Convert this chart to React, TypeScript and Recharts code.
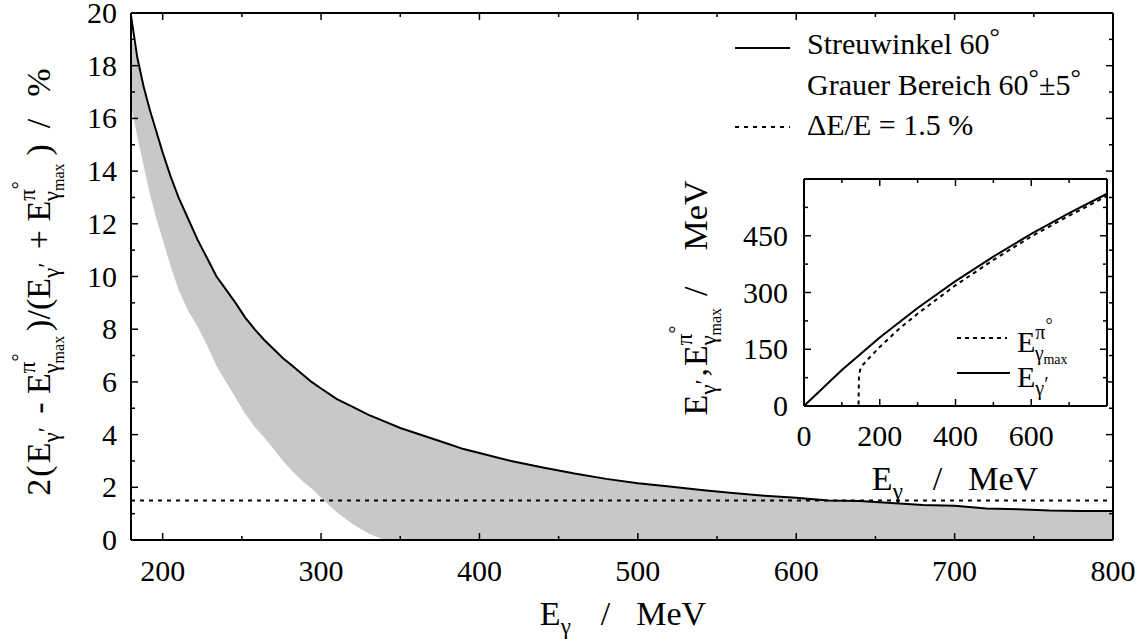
import React from 'react';
import { ComposedChart, LineChart, Line, Area, XAxis, YAxis, ReferenceLine } from 'recharts';

const FONT = 'Liberation Serif, Times New Roman, Tinos, serif';

// ---- main chart data (E_gamma in MeV, relative difference in %) ----
const energies = [180, 184, 188, 192, 196, 200, 205, 210, 216, 222, 228, 234, 240, 246, 252, 258, 264, 270, 276, 282, 288, 294, 300, 310, 320, 330, 340, 350, 360, 370, 380, 390, 400, 420, 440, 460, 480, 500, 520, 540, 560, 580, 600, 620, 640, 660, 680, 700, 720, 740, 760, 780, 800];
const upper60 = [19.9, 18.3, 17.2, 16.3, 15.5, 14.7, 13.8, 13.0, 12.2, 11.4, 10.7, 10.0, 9.5, 9.0, 8.45, 8.0, 7.6, 7.25, 6.9, 6.6, 6.3, 6.0, 5.75, 5.35, 5.05, 4.75, 4.5, 4.25, 4.05, 3.85, 3.65, 3.45, 3.3, 3.0, 2.75, 2.52, 2.32, 2.15, 2.03, 1.9, 1.78, 1.68, 1.6, 1.5, 1.48, 1.4, 1.33, 1.3, 1.2, 1.17, 1.12, 1.1, 1.1];
const bandHigh = [19.2, 18.3, 17.2, 16.3, 15.5, 14.7, 13.8, 13.0, 12.2, 11.4, 10.7, 10.0, 9.5, 9.0, 8.45, 8.0, 7.6, 7.25, 6.9, 6.6, 6.3, 6.0, 5.75, 5.35, 5.05, 4.75, 4.5, 4.25, 4.05, 3.85, 3.65, 3.45, 3.3, 3.0, 2.75, 2.52, 2.32, 2.15, 2.03, 1.9, 1.78, 1.68, 1.6, 1.5, 1.48, 1.4, 1.33, 1.3, 1.2, 1.17, 1.12, 1.1, 1.1];
const bandLow = [16.5, 15.3, 14.2, 13.1, 12.2, 11.4, 10.4, 9.5, 8.7, 8.1, 7.4, 6.6, 6.0, 5.4, 4.8, 4.3, 3.9, 3.45, 3.0, 2.6, 2.25, 1.95, 1.6, 1.05, 0.6, 0.25, 0, 0, 0, 0, 0, 0, 0, 0, 0, 0, 0, 0, 0, 0, 0, 0, 0, 0, 0, 0, 0, 0, 0, 0, 0, 0, 0];
const resolutionLevel = 1.5;

const mainXTicks = [200, 250, 300, 350, 400, 450, 500, 550, 600, 650, 700, 750, 800];
const mainYTicks = [0, 1, 2, 3, 4, 5, 6, 7, 8, 9, 10, 11, 12, 13, 14, 15, 16, 17, 18, 19, 20];

// ---- inset data ----
const insetPrimeX = [0, 100, 200, 300, 400, 500, 600, 700, 800];
const insetPrimeY = [0, 95, 181, 259, 330, 395, 455, 510, 561];
const insetMaxX = [0, 144, 145, 148, 155, 170, 200, 250, 300, 400, 500, 600, 700, 800];
const insetMaxY = [0, 0, 75, 95, 108, 125, 156, 203, 244, 319, 386, 448, 503, 555];
const insetXTicks = [0, 100, 200, 300, 400, 500, 600, 700, 800];
const insetXLabels = [0, 200, 400, 600];
const insetYTicks = [0, 75, 150, 225, 300, 375, 450, 525, 600];
const insetYLabels = [0, 150, 300, 450];

const mainData = energies.map((e, i) => ({ e, upper: upper60[i], band: [bandLow[i], bandHigh[i]] }));
const primeData = insetPrimeX.map((x, i) => ({ x, y: insetPrimeY[i] }));
const maxData = insetMaxX.map((x, i) => ({ x, y: insetMaxY[i] }));

type Seg = { t: string; fs: number; off?: number; dx?: number };

function Rich({ x, y, segs, anchor = 'start', rotate = 0 }: { x: number; y: number; segs: Seg[]; anchor?: string; rotate?: number }) {
  let prev = 0;
  return (
    <text x={x} y={y} textAnchor={anchor as any} fill="#000" fontFamily={FONT} style={{ whiteSpace: 'pre', fontFamily: FONT }}
      transform={rotate ? `rotate(${rotate} ${x} ${y})` : undefined}>
      {segs.map((s, i) => {
        const off = s.off ?? 0;
        const dy = off - prev;
        prev = off;
        return <tspan key={i} dy={dy} dx={s.dx ?? 0} fontFamily={FONT} fontSize={s.fs}>{s.t}</tspan>;
      })}
    </text>
  );
}

const M = 34, S = 23, SS = 16;
const stack = (m = M): Seg[] => {
  const k = m / M;
  return [
    { t: 'π', fs: Math.round(S * k), off: Math.round(-15 * k) },
    { t: '°', fs: Math.round(20 * k), off: Math.round(-24 * k) },
    { t: 'γ', fs: Math.round(S * k), off: Math.round(9 * k), dx: Math.round(-20 * k) },
    { t: 'max', fs: Math.round(SS * k), off: Math.round(14 * k) },
  ];
};

const mainYTitle: Seg[] = [
  { t: '2', fs: M, off: 0 },
  { t: '(', fs: M, off: 0, dx: 2 },
  { t: 'E', fs: M, off: 0, dx: 2 },
  { t: 'γ', fs: S, off: 9 },
  { t: '′', fs: S, off: 4 },
  { t: ' - ', fs: M, off: 0, dx: 5 },
  { t: 'E', fs: M, off: 0 },
  ...stack(),
  { t: ')/(', fs: M, off: 0, dx: 5 },
  { t: 'E', fs: M, off: 0 },
  { t: 'γ', fs: S, off: 9 },
  { t: '′', fs: S, off: 4 },
  { t: ' + ', fs: M, off: 0, dx: 5 },
  { t: 'E', fs: M, off: 0 },
  ...stack(),
  { t: ')', fs: M, off: 0, dx: 8 },
  { t: '/', fs: M, off: 0, dx: 16 },
  { t: '%', fs: M, off: 0, dx: 22 },
];

const insetYTitle: Seg[] = [
  { t: 'E', fs: M, off: 0 },
  { t: 'γ', fs: S, off: 9 },
  { t: '′', fs: S, off: 4 },
  { t: ',', fs: M, off: 0, dx: 3 },
  { t: 'E', fs: M, off: 0, dx: 2 },
  ...stack(),
  { t: '/', fs: M, off: 0, dx: 12 },
  { t: 'MeV', fs: M, off: 0, dx: 36 },
];

const xTitle: Seg[] = [
  { t: 'E', fs: M, off: 0 },
  { t: 'γ', fs: S, off: 9 },
  { t: '/', fs: M, off: 0, dx: 30 },
  { t: 'MeV', fs: M, off: 0, dx: 26 },
];

const makeTick = (side: 'bottom' | 'top' | 'left' | 'right', isMajor: (v: number) => boolean, isLabel: (v: number) => boolean, labelGap: number) =>
  (p: any) => {
    const v = p.payload.value as number;
    const x = p.x as number;
    const y = p.y as number;
    const len = isMajor(v) ? 7 : 4;
    let line = null as any;
    let label = null as any;
    const ts = { fontFamily: FONT, fontSize: 30 };
    if (side === 'bottom') {
      line = <line x1={x} y1={y} x2={x} y2={y - len} stroke="#000" strokeWidth={1.5} />;
      if (isLabel(v)) label = <text x={x} y={y + labelGap} textAnchor="middle" fill="#000" fontFamily={FONT} fontSize={30} style={ts}>{v}</text>;
    } else if (side === 'top') {
      line = <line x1={x} y1={y} x2={x} y2={y + len} stroke="#000" strokeWidth={1.5} />;
    } else if (side === 'left') {
      line = <line x1={x} y1={y} x2={x + len} y2={y} stroke="#000" strokeWidth={1.5} />;
      if (isLabel(v)) label = <text x={x - labelGap} y={y + 10} textAnchor="end" fill="#000" fontFamily={FONT} fontSize={30} style={ts}>{v}</text>;
    } else {
      line = <line x1={x} y1={y} x2={x - len} y2={y} stroke="#000" strokeWidth={1.5} />;
    }
    return <g>{line}{label}</g>;
  };

const mainMajorX = (v: number) => v % 100 === 0;
const mainMajorY = (v: number) => v % 2 === 0;
const insetMajorX = (v: number) => v % 200 === 0;
const insetMajorY = (v: number) => v % 150 === 0;
const axisLine = { stroke: '#000', strokeWidth: 2 };
const zero = { top: 0, right: 0, bottom: 0, left: 0 };

export default function App() {
  return (
    <div style={{ position: 'absolute', left: 0, top: 0, width: 1144, height: 639, background: '#fff', fontFamily: FONT }}>
      <div style={{ position: 'absolute', left: 0, top: 0, fontFamily: FONT }}>
        <ComposedChart width={1144} height={639} data={mainData} margin={zero} style={{ fontFamily: FONT }}>
          <XAxis xAxisId="b" dataKey="e" type="number" domain={[180, 800]} ticks={mainXTicks} interval={0} allowDataOverflow
            height={99} tickSize={0} tickMargin={0} tickLine={false} axisLine={axisLine}
            tick={makeTick('bottom', mainMajorX, mainMajorX, 41)} />
          <XAxis xAxisId="t" orientation="top" dataKey="e" type="number" domain={[180, 800]} ticks={mainXTicks} interval={0} allowDataOverflow
            height={13} tickSize={0} tickMargin={0} tickLine={false} axisLine={axisLine}
            tick={makeTick('top', mainMajorX, () => false, 0)} />
          <YAxis yAxisId="l" type="number" domain={[0, 20]} ticks={mainYTicks} interval={0} allowDataOverflow
            width={131} tickSize={0} tickMargin={0} tickLine={false} axisLine={axisLine}
            tick={makeTick('left', mainMajorY, mainMajorY, 14)} />
          <YAxis yAxisId="r" orientation="right" type="number" domain={[0, 20]} ticks={mainYTicks} interval={0} allowDataOverflow
            width={31} tickSize={0} tickMargin={0} tickLine={false} axisLine={axisLine}
            tick={makeTick('right', mainMajorY, () => false, 0)} />
          <Area xAxisId="b" yAxisId="l" type="linear" dataKey="band" fill="#c8c8c8" fillOpacity={1} stroke="none" isAnimationActive={false} dot={false} activeDot={false} />
          <ReferenceLine xAxisId="b" yAxisId="l" y={resolutionLevel} stroke="#000" strokeWidth={2} strokeDasharray="4 5" />
          <Line xAxisId="b" yAxisId="l" type="linear" dataKey="upper" stroke="#000" strokeWidth={2} dot={false} activeDot={false} isAnimationActive={false} />
        </ComposedChart>
      </div>
      <div style={{ position: 'absolute', left: 0, top: 0, fontFamily: FONT }}>
        <LineChart width={1144} height={639} margin={zero} style={{ fontFamily: FONT }}>
          <XAxis xAxisId="b" dataKey="x" type="number" domain={[0, 800]} ticks={insetXTicks} interval={0} allowDataOverflow
            height={233} tickSize={0} tickMargin={0} tickLine={false} axisLine={axisLine}
            tick={makeTick('bottom', insetMajorX, (v) => insetXLabels.includes(v), 40)} />
          <XAxis xAxisId="t" orientation="top" dataKey="x" type="number" domain={[0, 800]} ticks={insetXTicks} interval={0} allowDataOverflow
            height={179} tickSize={0} tickMargin={0} tickLine={false} axisLine={axisLine}
            tick={makeTick('top', insetMajorX, () => false, 0)} />
          <YAxis yAxisId="l" type="number" domain={[0, 600]} ticks={insetYTicks} interval={0} allowDataOverflow
            width={804} tickSize={0} tickMargin={0} tickLine={false} axisLine={axisLine}
            tick={makeTick('left', insetMajorY, (v) => insetYLabels.includes(v), 16)} />
          <YAxis yAxisId="r" orientation="right" type="number" domain={[0, 600]} ticks={insetYTicks} interval={0} allowDataOverflow
            width={37} tickSize={0} tickMargin={0} tickLine={false} axisLine={axisLine}
            tick={makeTick('right', insetMajorY, () => false, 0)} />
          <Line xAxisId="b" yAxisId="l" data={maxData} type="linear" dataKey="y" stroke="#000" strokeWidth={2} strokeDasharray="4 4" dot={false} activeDot={false} isAnimationActive={false} />
          <Line xAxisId="b" yAxisId="l" data={primeData} type="linear" dataKey="y" stroke="#000" strokeWidth={2} dot={false} activeDot={false} isAnimationActive={false} />
        </LineChart>
      </div>
      <svg width={1144} height={639} fontFamily={FONT} style={{ position: 'absolute', left: 0, top: 0, pointerEvents: 'none', fontFamily: FONT }}>
        {/* main axis titles */}
        <Rich x={623} y={625} anchor="middle" segs={xTitle} />
        <Rich x={50} y={282} anchor="middle" rotate={-90} segs={mainYTitle} />
        {/* main legend */}
        <line x1={735} y1={48} x2={790} y2={48} stroke="#000" strokeWidth={2} />
        <Rich x={807} y={54} segs={[{ t: 'Streuwinkel 60', fs: 30 }, { t: '°', fs: 26, off: -9 }]} />
        <Rich x={807} y={95} segs={[{ t: 'Grauer Bereich 60', fs: 30 }, { t: '°', fs: 26, off: -9 }, { t: '±5', fs: 30, off: 0 }, { t: '°', fs: 26, off: -9 }]} />
        <line x1={735} y1={127} x2={790} y2={127} stroke="#000" strokeWidth={2} strokeDasharray="4 5" />
        <Rich x={807} y={135} segs={[{ t: 'ΔE/E = 1.5 %', fs: 30 }]} />
        {/* inset titles */}
        <Rich x={955} y={490} anchor="middle" segs={xTitle} />
        <Rich x={707} y={298} anchor="middle" rotate={-90} segs={insetYTitle} />
        {/* inset legend */}
        <line x1={957} y1={338} x2={1007} y2={338} stroke="#000" strokeWidth={2} strokeDasharray="4 4" />
        <Rich x={1017} y={352} segs={[{ t: 'E', fs: 30 }, ...stack(30)]} />
        <line x1={957} y1={373} x2={1010} y2={373} stroke="#000" strokeWidth={2} />
        <Rich x={1017} y={387} segs={[{ t: 'E', fs: 30 }, { t: 'γ', fs: 20, off: 8 }, { t: '′', fs: 20, off: 4 }]} />
      </svg>
    </div>
  );
}
